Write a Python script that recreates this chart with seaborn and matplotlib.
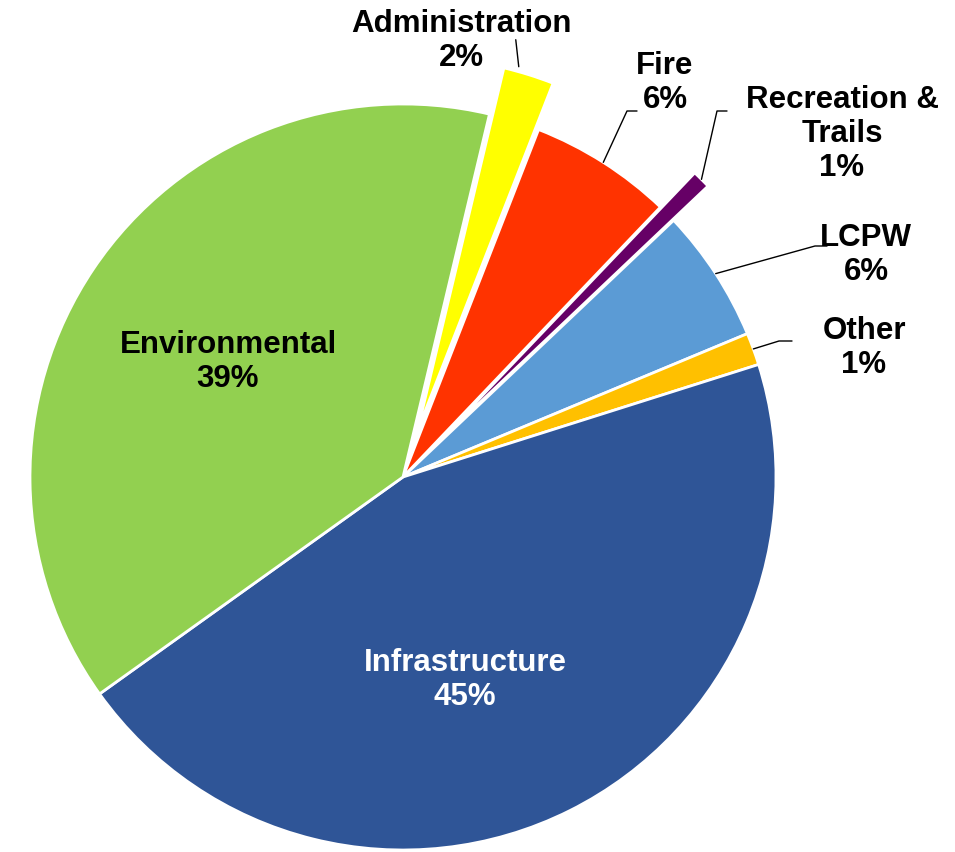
import numpy as np
import seaborn as sns
import matplotlib.pyplot as plt

categories = ["Administration", "Fire", "Recreation &\nTrails", "LCPW", "Other",
              "Infrastructure", "Environmental"]
shares = [2.2, 6.2, 0.8, 5.8, 1.4, 45.0, 38.6]
colors = ["#FFFF00", "#FF3300", "#660066", "#5B9BD5", "#FFC000", "#2F5597", "#92D050"]
explode_frac = [0.13, 0, 0.13, 0, 0, 0, 0]

sns.set_theme(style="white")
plt.rcParams['font.family'] = ['Liberation Sans', 'DejaVu Sans']

W, H = 955, 853
fig = plt.figure(figsize=(W / 100, H / 100), dpi=100)
ax = fig.add_axes([0, 0, 1, 1])

cx, cy, R = 403, H - 478, 373
wedges, _ = ax.pie(shares, colors=colors, explode=[e * R for e in explode_frac],
                   startangle=76.6, counterclock=False, center=(cx, cy), radius=R,
                   wedgeprops=dict(edgecolor="white", linewidth=2))
ax.set_xlim(0, W)
ax.set_ylim(0, H)
ax.set_aspect("equal")
ax.axis("off")

# label block centres in pixels and leader elbows (x, y, end x)
label_pos = {
    "Administration": ((461, 41), None),
    "Fire": ((665, 83), (627, 112, 637)),
    "Recreation &\nTrails": ((842, 134), (717, 112, 727)),
    "LCPW": ((866, 255), (815, 247, 827)),
    "Other": ((864, 348), (779, 342, 792)),
    "Environmental": ((228, 362), None),
    "Infrastructure": ((465, 680), None),
}

fs = 22.5
for w, name, val in zip(wedges, categories, shares):
    text = f"{name}\n{val:.0f}%"
    (tx, ty), elbow = label_pos[name]
    color = "white" if name == "Infrastructure" else "black"
    ax.text(tx, H - ty, text, ha="center", va="center", fontsize=fs,
            fontweight="bold", color=color, linespacing=1.17)
    if name in ("Environmental", "Infrastructure"):
        continue
    # leader line starting at the wedge's outer edge
    mid = np.deg2rad((w.theta1 + w.theta2) / 2)
    wx, wy = w.center
    sx, sy = wx + w.r * np.cos(mid), wy + w.r * np.sin(mid)
    if elbow is None:
        ax.plot([sx - 10, sx - 13], [sy + 8, sy + 35], color="black", lw=1)
    else:
        ex, ey, ex2 = elbow
        ax.plot([sx, ex, ex2], [sy, H - ey, H - ey], color="black", lw=1)

fig.savefig("out.png", dpi=100)
